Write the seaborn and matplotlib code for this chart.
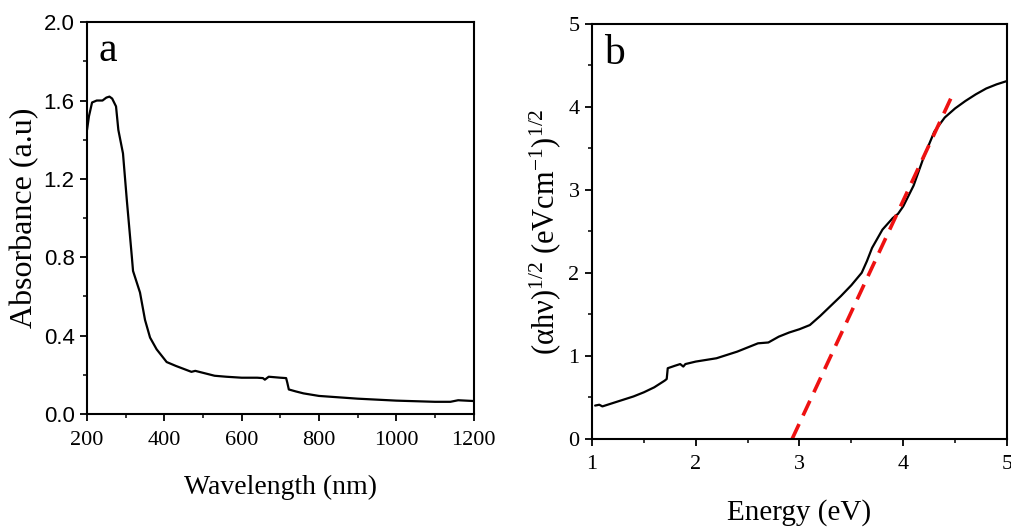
import numpy as np
import pandas as pd
import matplotlib
matplotlib.use("Agg")
import matplotlib.pyplot as plt
import seaborn as sns
from matplotlib.ticker import MultipleLocator

# ---- Data: panel a (absorbance spectrum) ----
wavelength = [200, 205, 213, 225, 240, 250, 258, 265, 275, 281, 293, 303, 316, 319,
              337, 350, 363, 380, 406, 430, 450, 470, 480, 500, 530, 560, 600, 640,
              655, 660, 670, 700, 715, 718, 722, 740, 760, 800, 850, 900, 950, 1000,
              1050, 1100, 1140, 1160, 1180, 1200]
absorbance = [1.45, 1.52, 1.59, 1.60, 1.60, 1.615, 1.62, 1.61, 1.57, 1.45, 1.33, 1.09,
              0.80, 0.73, 0.62, 0.48, 0.39, 0.33, 0.265, 0.245, 0.23, 0.215, 0.22, 0.21,
              0.195, 0.19, 0.185, 0.185, 0.183, 0.175, 0.19, 0.185, 0.183, 0.16, 0.125,
              0.115, 0.105, 0.092, 0.085, 0.078, 0.073, 0.068, 0.065, 0.062, 0.062,
              0.07, 0.068, 0.066]

# ---- Data: panel b (Tauc plot) ----
energy = [1.03, 1.07, 1.1, 1.2, 1.3, 1.4, 1.5, 1.6, 1.7, 1.72, 1.73, 1.8, 1.85, 1.88,
          1.9, 2.0, 2.1, 2.2, 2.3, 2.4, 2.5, 2.6, 2.7, 2.8, 2.9, 3.0, 3.1, 3.2, 3.3,
          3.4, 3.5, 3.6, 3.65, 3.7, 3.8, 3.9, 3.95, 4.0, 4.1, 4.2, 4.3, 4.4, 4.5,
          4.6, 4.7, 4.8, 4.9, 5.0]
tauc = [0.40, 0.41, 0.39, 0.43, 0.47, 0.51, 0.56, 0.62, 0.70, 0.72, 0.85, 0.88, 0.90,
        0.87, 0.90, 0.93, 0.95, 0.97, 1.01, 1.05, 1.10, 1.15, 1.16, 1.23, 1.28, 1.32,
        1.37, 1.48, 1.60, 1.72, 1.85, 2.00, 2.14, 2.30, 2.52, 2.66, 2.71, 2.80, 3.05,
        3.40, 3.70, 3.87, 3.98, 4.07, 4.15, 4.22, 4.27, 4.31]

fit_energy = [2.93, 4.47]
fit_tauc = [0.0, 4.13]

sns.set_theme(style="ticks")
plt.rcParams['font.family'] = ['Liberation Serif', 'DejaVu Serif']
plt.rcParams['mathtext.fontset'] = 'custom'
plt.rcParams['mathtext.rm'] = 'Liberation Serif'
plt.rcParams['mathtext.it'] = 'Liberation Serif:italic'
plt.rcParams['text.color'] = 'black'
plt.rcParams['axes.labelcolor'] = 'black'
plt.rcParams['xtick.color'] = 'black'
plt.rcParams['ytick.color'] = 'black'

fig = plt.figure(figsize=(10.12, 5.28), dpi=100)
axa = fig.add_axes([0.086, 0.216, 0.382, 0.742])
axb = fig.add_axes([0.585, 0.169, 0.410, 0.786])

dfa = pd.DataFrame({"Wavelength": wavelength, "Absorbance": absorbance})
sns.lineplot(data=dfa, x="Wavelength", y="Absorbance", ax=axa, color="black",
             linewidth=1.6, sort=False)
axa.set_xlim(200, 1200)
axa.set_ylim(0, 2.0)
axa.xaxis.set_major_locator(MultipleLocator(200))
axa.xaxis.set_minor_locator(MultipleLocator(100))
axa.yaxis.set_major_locator(MultipleLocator(0.4))
axa.yaxis.set_minor_locator(MultipleLocator(0.2))
axa.yaxis.set_major_formatter(matplotlib.ticker.FormatStrFormatter('%.1f'))
axa.set_xlabel("Wavelength (nm)", fontsize=20, labelpad=18)
axa.set_ylabel("Absorbance (a.u)", fontsize=23, labelpad=3)
axa.text(0.03, 0.975, "a", transform=axa.transAxes, fontsize=30, va="top", ha="left")

dfb = pd.DataFrame({"Energy": energy, "Tauc": tauc})
dff = pd.DataFrame({"Energy": fit_energy, "Tauc": fit_tauc})
sns.lineplot(data=dfb, x="Energy", y="Tauc", ax=axb, color="black", linewidth=1.6,
             sort=False)
sns.lineplot(data=dff, x="Energy", y="Tauc", ax=axb, color="#ee1111", linewidth=2.6,
             dashes=False, sort=False)
axb.lines[-1].set_linestyle((0, (4.5, 2.6)))
axb.set_xlim(1, 5)
axb.set_ylim(0, 5)
axb.xaxis.set_major_locator(MultipleLocator(1))
axb.xaxis.set_minor_locator(MultipleLocator(0.5))
axb.yaxis.set_major_locator(MultipleLocator(1))
axb.yaxis.set_minor_locator(MultipleLocator(0.5))
axb.set_xlabel("Energy (eV)", fontsize=21, labelpad=18)
axb.set_ylabel("(αhν)$^{1/2}$ (eVcm$^{-1}$)$^{1/2}$", fontsize=22, labelpad=4)
axb.text(0.03, 0.975, "b", transform=axb.transAxes, fontsize=30, va="top", ha="left")

for ax in (axa, axb):
    for s in ax.spines.values():
        s.set_visible(True)
        s.set_linewidth(1.5)
        s.set_color("black")
    ax.tick_params(which="major", direction="out", length=5, width=1.3,
                   colors="black", top=False, right=False, pad=4, labelsize=16)
    ax.tick_params(which="minor", direction="out", length=3, width=1.1,
                   colors="black", top=False, right=False)
    ax.tick_params(axis="x", which="major", pad=7)
    ax.grid(False)

axa.tick_params(axis="y", labelsize=16)
for lab in axa.get_yticklabels():
    lab.set_fontfamily(['Liberation Sans', 'DejaVu Sans'])

fig.savefig("out.png", dpi=100)
